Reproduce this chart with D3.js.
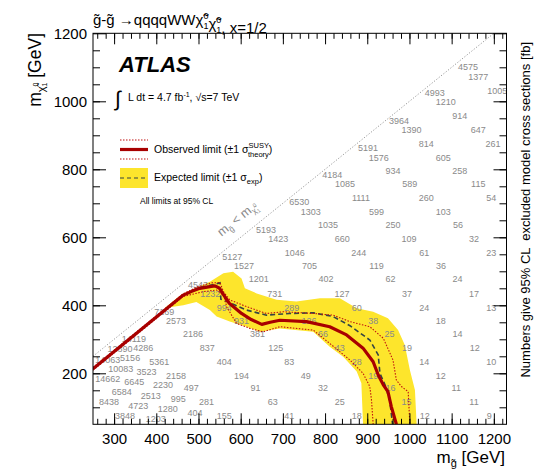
<!DOCTYPE html>
<html><head><meta charset="utf-8">
<script src="https://cdn.jsdelivr.net/npm/d3@7"></script>
<style>
body{margin:0;background:#fff}
svg{display:block}
text{font-family:"Liberation Sans",Arial,Helvetica,sans-serif}
</style>
</head><body>
<svg id="c" width="535" height="469"></svg>
<script>
// ---------------- data ----------------
const xTicks = [300,400,500,600,700,800,900,1000,1100,1200];
const yTicks = [200,400,600,800,1000,1200];
const xMinorTicks = d3.range(260,1230,20);
const yMinorTicks = d3.range(100,1200,50);

// observed limit (m_gluino, m_LSP)
const observed = [[250,213],[464,430],[484,441],[503,450],[527,455],[539,457],[549,451],[560,430],[573,406],[602,376],[625,358],[650,344],[670,350],[693,356],[756,352],[811,337],[851,313],[890,274],[914,234],[926,195],[938,166],[949,146],[957,102],[969,50]];
// observed +/- 1 sigma theory
const obsUp = [[250,217],[464,434],[499,455],[531,466],[551,467],[559,440],[574,416],[614,396],[661,376],[701,381],[772,376],[819,371],[859,352],[906,337],[938,303],[961,239],[969,180],[981,161],[997,146],[1001,50]];
const obsDown = [[250,209],[464,426],[511,440],[543,445],[560,428],[567,395],[590,347],[622,332],[653,322],[693,337],[772,327],[811,288],[859,239],[890,200],[906,161],[910,122],[914,50]];
// expected limit
const expected = [[250,213],[464,430],[503,452],[540,462],[551,466],[553,418],[573,408],[614,386],[661,371],[716,376],[772,378],[819,367],[859,340],[906,298],[926,254],[930,200],[942,166],[953,122],[960,50]];
// expected +/- 1 sigma band
const bandUpper = [[420,392],[450,422],[464,435],[527,469],[559,494],[582,499],[602,479],[610,450],[638,435],[685,416],[732,411],[788,421],[835,421],[875,391],[914,381],[949,362],[973,327],[989,283],[1001,210],[1013,151],[1017,50]];
const bandLower = [[890,50],[886,171],[875,205],[843,249],[811,278],[772,322],[693,332],[646,322],[614,337],[574,352],[543,367],[527,386],[495,410],[464,400],[440,396]];

// excluded cross sections [fb] at (m_gluino, m_LSP)
const xsecLabels = [
[1139,1100,"4575"],[1163,1072,"1377"],[1208,1031,"1005"],
[1060,1024,"4993"],[1086,997,"1210"],[1119,957,"914"],
[975,943,"3964"],[1005,916,"1390"],[1163,916,"647"],
[1040,874,"814"],[1198,874,"261"],
[902,863,"5191"],[927,835,"1576"],[1080,835,"605"],
[961,795,"934"],[1119,795,"258"],
[817,783,"4184"],[847,757,"1085"],[1001,757,"589"],[1163,757,"115"],
[885,715,"1111"],[1040,715,"260"],[1194,715,"54"],
[739,703,"6530"],[766,675,"1303"],[922,675,"599"],[1080,675,"103"],
[807,636,"1035"],[961,636,"250"],[1115,636,"56"],
[660,622,"5193"],[689,595,"1423"],[841,595,"660"],[999,595,"109"],[1153,595,"32"],
[728,555,"1046"],[880,555,"244"],[1035,555,"61"],[1194,555,"23"],
[580,543,"5127"],[608,516,"1527"],[763,516,"705"],[922,516,"119"],[1075,516,"36"],
[643,477,"1201"],[802,477,"402"],[955,477,"62"],[1114,477,"24"],
[499,461,"4543"],[528,435,"1232"],[681,435,"731"],[840,435,"127"],[994,435,"37"],[1153,435,"17"],
[419,381,"7169"],[561,393,"994"],[721,393,"289"],[875,393,"60"],[1035,393,"24"],[1194,393,"13"],
[447,354,"2573"],[602,354,"931"],[762,354,"126"],[914,354,"38"],[1074,354,"18"],
[347,301,"14119"],[487,316,"2186"],[640,316,"381"],[795,316,"66"],[953,316,"25"],[1114,316,"14"],
[314,272,"12890"],[369,276,"4286"],[521,276,"837"],[683,276,"125"],[835,276,"43"],[994,276,"19"],[1155,276,"12"],
[285,241,"14063"],[338,244,"5156"],[407,234,"5361"],[561,234,"404"],[715,234,"83"],[875,234,"28"],[1035,234,"14"],[1194,234,"10"],
[316,213,"10083"],[377,203,"3523"],[447,193,"2158"],[602,193,"194"],[754,193,"49"],[914,193,"19"],[1074,193,"12"],
[285,183,"14662"],[348,175,"6645"],[416,166,"2230"],[483,156,"497"],[635,156,"91"],[795,156,"32"],[955,156,"16"],[1111,156,"11"],
[318,146,"6584"],[387,134,"2513"],[452,124,"995"],[519,116,"281"],[676,116,"63"],[835,116,"25"],[993,116,"15"],[1153,116,"11"],
[288,116,"8438"],[357,105,"4723"],[427,95,"1280"],[492,85,"404"],
[326,74,"3848"],[399,65,"1203"],[561,74,"155"],[715,74,"41"],[875,74,"18"],[1036,74,"12"],[1189,74,"9"]
];

// ---------------- drawing ----------------
const svg = d3.select("#c");
const x = d3.scaleLinear().domain([250,1230]).range([93,506.5]);
const y = d3.scaleLinear().domain([50,1200]).range([424.3,33.3]);
const line = d3.line().x(d=>x(d[0])).y(d=>y(d[1]));

const plot = svg.append("g");
plot.append("clipPath").attr("id","clip").append("rect")
  .attr("x",x(250)).attr("y",y(1200)).attr("width",x(1230)-x(250)).attr("height",y(50)-y(1200));
const inner = plot.append("g").attr("clip-path","url(#clip)");

// expected band
inner.append("path").attr("d", line(bandUpper.concat(bandLower)) + "Z")
  .attr("fill","#fde52c").attr("stroke","none");

// kinematic diagonal
inner.append("path").attr("d", line([[250,250],[1200,1200]]))
  .attr("stroke","#8c8c8c").attr("stroke-width",0.9).attr("stroke-dasharray","1.2,1.8").attr("fill","none");

// diagonal label
const ang = Math.atan2(y(250)-y(1200), x(1200)-x(250))*180/Math.PI;
const dl = inner.append("text").attr("transform",`translate(${x(598)},${y(645)}) rotate(${-ang})`)
  .attr("text-anchor","middle").attr("font-size",12.5).attr("fill","#888");
dl.append("tspan").text("m");
dl.append("tspan").attr("font-size",8).attr("dy",3).text("g̃");
dl.append("tspan").attr("dy",-3).text(" < m");
dl.append("tspan").attr("font-size",8).attr("dy",3).text("χ̃");
dl.append("tspan").attr("font-size",5.5).attr("dy",-5).text("0");
dl.append("tspan").attr("font-size",5.5).attr("dx",-3).attr("dy",7).text("1");

// cross-section numbers
inner.append("g").selectAll("text").data(xsecLabels).join("text")
  .attr("x",d=>x(d[0])).attr("y",d=>y(d[1])).attr("dy","0.35em")
  .attr("text-anchor","middle").attr("font-size",9).attr("fill","#8a8a8a").text(d=>d[2]);

// limit lines
inner.append("path").attr("d",line(expected)).attr("fill","none")
  .attr("stroke","#344544").attr("stroke-width",1.6).attr("stroke-dasharray","5,3");
[obsUp, obsDown].forEach(s => inner.append("path").attr("d",line(s)).attr("fill","none")
  .attr("stroke","#c01010").attr("stroke-width",1.1).attr("stroke-dasharray","1.5,1.5"));
inner.append("path").attr("d",line(observed)).attr("fill","none")
  .attr("stroke","#a80000").attr("stroke-width",3.2).attr("stroke-linejoin","round");

// axes
const fmt = d3.format("d");
function styleAxis(g){ g.select(".domain").remove(); g.selectAll("line").attr("stroke","#000"); g.selectAll("text").attr("font-size",15).attr("fill","#000").attr("font-family","Liberation Sans, Arial, sans-serif"); }
svg.append("g").attr("transform",`translate(0,${y(50)})`)
  .call(d3.axisBottom(x).tickValues(xMinorTicks).tickSize(-5.5).tickFormat("")).call(styleAxis);
svg.append("g").attr("transform",`translate(0,${y(50)})`)
  .call(d3.axisBottom(x).tickValues(xTicks).tickSize(-11).tickPadding(9).tickFormat(fmt)).call(styleAxis);
svg.append("g").attr("transform",`translate(0,${y(1200)})`)
  .call(d3.axisTop(x).tickValues(xMinorTicks).tickSize(-5.5).tickFormat("")).call(styleAxis);
svg.append("g").attr("transform",`translate(0,${y(1200)})`)
  .call(d3.axisTop(x).tickValues(xTicks).tickSize(-11).tickFormat("")).call(styleAxis);
svg.append("g").attr("transform",`translate(${x(250)},0)`)
  .call(d3.axisLeft(y).tickValues(yMinorTicks).tickSize(-7).tickFormat("")).call(styleAxis);
svg.append("g").attr("transform",`translate(${x(250)},0)`)
  .call(d3.axisLeft(y).tickValues(yTicks).tickSize(-13).tickPadding(6).tickFormat(fmt)).call(styleAxis);
svg.append("g").attr("transform",`translate(${x(1230)},0)`)
  .call(d3.axisRight(y).tickValues(yMinorTicks).tickSize(-7).tickFormat("")).call(styleAxis);
svg.append("g").attr("transform",`translate(${x(1230)},0)`)
  .call(d3.axisRight(y).tickValues(yTicks).tickSize(-13).tickFormat("")).call(styleAxis);
svg.append("rect").attr("x",x(250)).attr("y",y(1200)).attr("width",x(1230)-x(250)).attr("height",y(50)-y(1200))
  .attr("fill","none").attr("stroke","#000").attr("stroke-width",1);

// title
const t = svg.append("text").attr("x",93).attr("y",25).attr("font-size",15).attr("fill","#000");
t.append("tspan").text("g̃-g̃ →qqqqWW");
function chi(el, fs, supfs, w){
  el.append("tspan").attr("font-size",fs).text("χ̃");
  el.append("tspan").attr("font-size",supfs).attr("dy",-6).text("0");
  el.append("tspan").attr("font-size",supfs).attr("dx",-w).attr("dy",10).text("1");
  el.append("tspan").attr("font-size",supfs).attr("dy",-4).text("");
}
chi(t,15,9,5);
chi(t,15,9,5);
t.append("tspan").text(", x=1/2");

// axis titles
const xt = svg.append("text").attr("x",505).attr("y",463).attr("text-anchor","end").attr("font-size",17);
xt.append("tspan").text("m");
xt.append("tspan").attr("font-size",11).attr("dy",4).text("g̃");
xt.append("tspan").attr("dy",-4).text(" [GeV]");

const yt = svg.append("text").attr("transform","translate(41,33) rotate(-90)").attr("text-anchor","end").attr("font-size",17.5);
yt.append("tspan").text("m");
yt.append("tspan").attr("font-size",11).attr("dy",4).text("χ̃");
yt.append("tspan").attr("font-size",7).attr("dy",-7).text("0");
yt.append("tspan").attr("font-size",7).attr("dx",-4).attr("dy",9).text("1");
yt.append("tspan").attr("dy",-6).text(" [GeV]");

svg.append("text").attr("transform","translate(530,42) rotate(-90)").attr("text-anchor","end")
  .attr("font-size",13).attr("xml:space","preserve").style("white-space","pre")
  .text("Numbers give 95% CL  excluded model cross sections [fb]");

// ATLAS label
svg.append("text").attr("x",119).attr("y",72).attr("font-size",22).attr("font-weight","bold").attr("font-style","italic").text("ATLAS");
svg.append("text").attr("x",115).attr("y",106).attr("font-size",21).text("∫");
const lum = svg.append("text").attr("x",128).attr("y",101).attr("font-size",10.5);
lum.append("tspan").text("L dt = 4.7 fb");
lum.append("tspan").attr("font-size",7).attr("dy",-4).text("-1");
lum.append("tspan").attr("dy",4).text(", √s=7 TeV");

// legend
const lg = svg.append("g");
[140,159].forEach(yy => lg.append("line").attr("x1",120).attr("x2",148).attr("y1",yy).attr("y2",yy)
  .attr("stroke","#c01010").attr("stroke-width",1.1).attr("stroke-dasharray","1.5,1.5"));
lg.append("line").attr("x1",120).attr("x2",148).attr("y1",149.5).attr("y2",149.5).attr("stroke","#a80000").attr("stroke-width",3.2);
const l1 = lg.append("text").attr("x",154).attr("y",153).attr("font-size",10.5);
l1.append("tspan").text("Observed limit (±1 σ");
l1.append("tspan").attr("font-size",7.5).attr("dy",-5).text("SUSY");
l1.append("tspan").attr("font-size",7.5).attr("dx",-21).attr("dy",9).text("theory");
l1.append("tspan").attr("dy",-4).text(")");
lg.append("rect").attr("x",120).attr("y",168).attr("width",28).attr("height",20).attr("fill","#fde52c");
lg.append("line").attr("x1",120).attr("x2",148).attr("y1",178).attr("y2",178).attr("stroke","#344544").attr("stroke-width",1.2).attr("stroke-dasharray","4,3");
const l2 = lg.append("text").attr("x",154).attr("y",181).attr("font-size",10.5);
l2.append("tspan").text("Expected limit (±1 σ");
l2.append("tspan").attr("font-size",7.5).attr("dy",3).text("exp");
l2.append("tspan").attr("dy",-3).text(")");
lg.append("text").attr("x",140).attr("y",204).attr("font-size",8.5).text("All limits at 95% CL");
</script>
</body></html>
